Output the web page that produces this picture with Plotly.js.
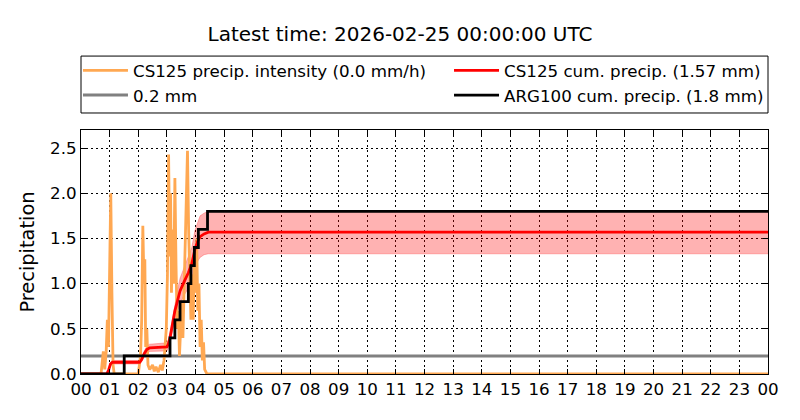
<!DOCTYPE html>
<html>
<head>
<meta charset="utf-8">
<script src="https://cdn.plot.ly/plotly-3.0.1.min.js"></script>
<style>html,body{margin:0;padding:0;background:#fff;}#chart{width:800px;height:420px;}</style>
</head>
<body>
<div id="chart"></div>
<script>
// ---- data (hours since 00 UTC) ----
const hourTickVals = [0,1,2,3,4,5,6,7,8,9,10,11,12,13,14,15,16,17,18,19,20,21,22,23,24];
const hourTickText = ["00","01","02","03","04","05","06","07","08","09","10","11","12","13","14","15","16","17","18","19","20","21","22","23","00"];

const intensityHours = [0.0,0.70,0.78,0.83,0.88,0.92,0.96,1.00,1.04,1.08,1.12,1.16,2.00,2.04,2.08,2.12,2.16,2.20,2.23,2.26,2.30,2.34,2.40,2.50,2.56,2.62,2.70,2.78,2.84,2.90,2.94,2.98,3.02,3.06,3.10,3.13,3.16,3.20,3.24,3.28,3.32,3.36,3.40,3.44,3.48,3.52,3.56,3.60,3.64,3.68,3.72,3.76,3.80,3.84,3.88,3.92,3.96,4.00,4.04,4.08,4.12,4.16,4.20,4.24,4.28,4.32,4.40,24.0];
const intensityValues = [0,0,0.25,0.05,0.25,0.6,0.3,1.2,2.0,0.9,0.1,0,0,0.1,0.2,0.6,1.64,1.0,1.27,0.3,0.5,0.1,0.05,0.1,0.03,0.08,0.02,0.1,0.04,0.15,0.3,0.5,1.1,2.43,1.3,2.0,0.9,1.6,1.0,2.17,1.2,0.5,0.7,0.2,0.5,0.8,0.4,0.9,1.3,2.0,2.47,1.6,0.9,0.6,1.1,0.6,1.3,0.9,1.5,0.7,1.0,0.3,0.6,0.15,0.35,0.05,0,0];

const cumHours = [0,0.9,0.97,1.03,1.1,2.05,2.12,2.2,2.3,2.4,3.0,3.05,3.11,3.2,3.28,3.38,3.46,3.6,3.75,3.87,3.98,4.08,4.16,4.3,4.45,24];
const cumValues = [0,0,0.05,0.11,0.13,0.13,0.16,0.22,0.27,0.29,0.30,0.33,0.40,0.55,0.70,0.82,0.92,1.02,1.12,1.22,1.38,1.47,1.52,1.55,1.57,1.57];
const cumUpper = [0,0,0.06,0.13,0.15,0.15,0.18,0.25,0.31,0.33,0.345,0.38,0.46,0.63,0.80,0.94,1.06,1.17,1.29,1.40,1.59,1.69,1.75,1.78,1.80,1.80];
const cumLower = [0,0,0.04,0.09,0.11,0.11,0.14,0.19,0.23,0.25,0.255,0.28,0.34,0.47,0.60,0.70,0.78,0.87,0.95,1.04,1.17,1.25,1.29,1.32,1.33,1.33];

const argHours = [0,1.51,3.11,3.28,3.46,3.75,3.84,3.96,4.10,4.42,24];
const argValues = [0,0.2,0.4,0.6,0.8,1.0,1.2,1.4,1.6,1.8,1.8];

const thresholdHours = [0,24];
const thresholdValues = [0.2,0.2];

const yTickVals = [0,0.5,1.0,1.5,2.0,2.5];

const F = "DejaVu Sans, sans-serif";
const ORANGE = 'rgb(255,168,82)';

const traces = [
  {x: cumHours, y: cumLower, mode:'lines', line:{color:'rgba(255,0,0,0.25)', width:1}, showlegend:false, hoverinfo:'skip'},
  {x: cumHours, y: cumUpper, mode:'lines', fill:'tonexty', fillcolor:'rgba(255,0,0,0.3)', line:{color:'rgba(255,0,0,0.25)', width:1}, showlegend:false, hoverinfo:'skip'},
  {x: thresholdHours, y: thresholdValues, mode:'lines', name:'0.2 mm', line:{color:'#808080', width:3}, legend:'legend', legendrank:2},
  {x: intensityHours, y: intensityValues, mode:'lines', name:'CS125 precip. intensity (0.0 mm/h)', line:{color:ORANGE, width:2.8}, legend:'legend', legendrank:1},
  {x: cumHours, y: cumValues, mode:'lines', name:'CS125 cum. precip. (1.57 mm)', line:{color:'#ff0000', width:2.8}, legend:'legend2', legendrank:1},
  {x: argHours, y: argValues, mode:'lines', name:'ARG100 cum. precip. (1.8 mm)', line:{color:'#000000', width:2.8, shape:'hv'}, legend:'legend2', legendrank:2}
];

const legendCommon = {orientation:'v', yanchor:'top', xanchor:'left', bgcolor:'rgba(0,0,0,0)', borderwidth:0,
                      font:{family:F, size:16.7, color:'#000'}, itemwidth:45, traceorder:'normal'};

const gridAxis = {ticks:'inside', ticklen:5, tickcolor:'#000', showline:true, linecolor:'#000', linewidth:1, mirror:'ticks',
                  showgrid:true, gridcolor:'#000', griddash:'1.5px,3.5px', gridwidth:1, zeroline:false, tickfont:{family:F, size:16.7}};

const layout = {
  width:800, height:420,
  margin:{l:81, r:32, t:130, b:46},
  paper_bgcolor:'#fff', plot_bgcolor:'#fff',
  font:{family:F, size:16.7, color:'#000'},
  title:{text:'Latest time: 2026-02-25 00:00:00 UTC', font:{family:F, size:20, color:'#000'}, x:0.5, xanchor:'center', y:0.92, yanchor:'middle'},
  xaxis:Object.assign({range:[0,24], tickvals:hourTickVals, ticktext:hourTickText}, gridAxis),
  yaxis:Object.assign({range:[0,2.7], tickvals:yTickVals, tickformat:'.1f',
         title:{text:'Precipitation', font:{family:F, size:19.4}, standoff:10}}, gridAxis),
  legend:Object.assign({x:-0.0044, y:1.3156}, legendCommon),
  legend2:Object.assign({x:0.5357, y:1.3156}, legendCommon),
  shapes:[{type:'rect', xref:'paper', yref:'paper', x0:0, x1:1, y0:1.0697, y1:1.303, line:{color:'#000', width:1}, fillcolor:'rgba(0,0,0,0)'}],
  showlegend:true
};

Plotly.newPlot('chart', traces, layout, {staticPlot:true});
</script>
</body>
</html>
